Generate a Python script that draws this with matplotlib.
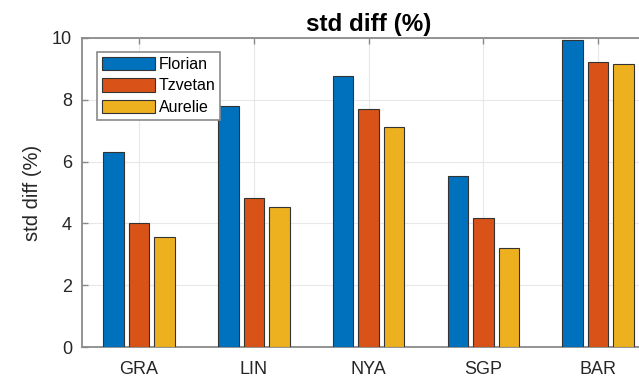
import matplotlib
matplotlib.use('Agg')
import matplotlib.pyplot as plt
import numpy as np

matplotlib.rcParams['font.family'] = ['Liberation Sans', 'DejaVu Sans']

sites = ['GRA', 'LIN', 'NYA', 'SGP', 'BAR']
florian = [6.31, 7.79, 8.77, 5.53, 9.92]
tzvetan = [4.00, 4.83, 7.69, 4.17, 9.21]
aurelie = [3.55, 4.54, 7.12, 3.22, 9.15]
names = ['Florian', 'Tzvetan', 'Aurelie']
colors = ['#0072BD', '#D95319', '#EDB120']

fig = plt.figure(figsize=(6.39, 3.77), dpi=100)
# axes run past the right edge, the reference is cropped there
ax = fig.add_axes([0.1279, 0.0788, 0.898, 0.821])

x = np.arange(1, len(sites) + 1)
step = 0.2222
w = step * 0.8
for i, (vals, c, n) in enumerate(zip([florian, tzvetan, aurelie], colors, names)):
    ax.bar(x + (i - 1) * step, vals, width=w, color=c, edgecolor='#333333',
           linewidth=0.8, label=n, zorder=3)

ax.set_xlim(0.5, 5.5)
ax.set_ylim(0, 10)
ax.set_xticks(x)
ax.set_xticklabels(sites)
ax.set_yticks([0, 2, 4, 6, 8, 10])
ax.grid(True, color='#e8e8e8', linewidth=0.8, zorder=0)
ax.set_axisbelow(True)

for s in ax.spines.values():
    s.set_color('#8a8a8a')
    s.set_linewidth(1.3)
ax.tick_params(direction='in', length=4, width=1, color='#8a8a8a',
               labelsize=13, labelcolor='#262626', top=True, right=True, pad=7)
ax.tick_params(axis='x', pad=10)

ax.set_ylabel('std diff (%)', fontsize=14.5, color='#262626', labelpad=7)
ax.set_title('std diff (%)', fontsize=17.5, fontweight='bold', pad=5)

leg = ax.legend(loc='upper left', bbox_to_anchor=(0.1513, 0.8629),
                bbox_transform=fig.transFigure, borderaxespad=0,
                fontsize=11.5, handlelength=3.3, handleheight=0.9,
                handletextpad=0.25, borderpad=0.32, labelspacing=0.4,
                fancybox=False, framealpha=1, edgecolor='#8a8a8a')
leg.get_frame().set_linewidth(1.2)

fig.savefig('out.png', dpi=100)
